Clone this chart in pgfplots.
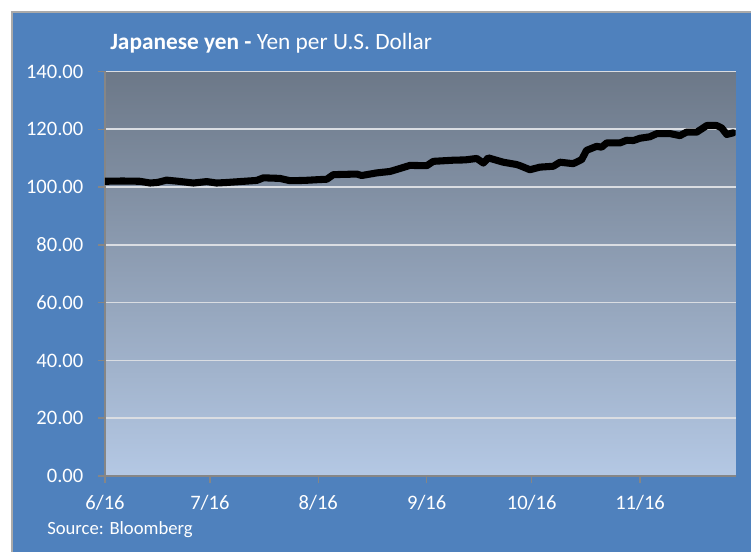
\documentclass[border=0pt]{standalone}
\usepackage{pgfplots}
\pgfplotsset{compat=1.18}
\usepackage{fontspec}
\setmainfont{Carlito}
\definecolor{bgblue}{RGB}{79,129,189}
\definecolor{plottop}{RGB}{108,120,136}
\definecolor{plotbot}{RGB}{180,200,228}
\definecolor{gridc}{RGB}{218,221,226}
\definecolor{axisgray}{RGB}{134,134,134}
\definecolor{framegray}{RGB}{170,170,170}
\begin{document}
\begin{tikzpicture}[x=0.75pt,y=0.75pt]
\fill[white] (0,0) rectangle (751,552);
\fill[bgblue] (12,0) rectangle (751,540);
\draw[framegray, line width=1.2pt] (12,0) -- (12,540) -- (751,540);
\begin{axis}[
  at={(78.75pt,57pt)}, anchor=south west,
  scale only axis, width=472.875pt, height=303.375pt,
  xmin=0, xmax=180.3, ymin=0, ymax=140,
  axis background/.style={top color=plottop, bottom color=plotbot},
  axis x line*=bottom, axis y line*=left,
  axis line style={axisgray, line width=1.1pt},
  tick align=outside, major tick length=5.25pt,
  tick style={axisgray, line width=1.1pt},
  ymajorgrids, major grid style={gridc, line width=1.2pt},
  ytick={0,20,...,140},
  xtick={0,30,61,92,122,153},
  xticklabels={6/16,7/16,8/16,9/16,10/16,11/16},
  ticklabel style={font=\fontsize{15.4}{18}\selectfont, text=white},
  /pgf/number format/assume math mode=true,
  yticklabel style={xshift=-7.5pt, /pgf/number format/.cd, fixed, fixed zerofill, precision=2},
  xticklabel style={yshift=-6pt},
]
\addplot[black, line width=5.3pt, line join=round, line cap=round] coordinates {
(0,102.0) (5,102.1) (10,102.0) (12.9,101.4) (15,101.6) (17.6,102.4) (21,102.0)
(25.3,101.4) (29.1,101.9) (31.9,101.4) (35,101.6) (38.6,101.9) (43.4,102.3)
(45.3,103.2) (50.0,103.0) (52.9,102.2) (57,102.3) (61.5,102.6) (63.4,102.7)
(65.3,104.3) (72.0,104.5) (73.4,104.0) (77.7,104.9) (81.5,105.4) (84,106.3)
(87.2,107.5) (92.0,107.4) (93.9,108.9) (99.6,109.3) (103,109.4) (106.3,109.9)
(108.2,108.3) (109.6,110.1) (113.9,108.6) (117.7,107.8) (118.7,107.4) (121.5,106.0)
(124.4,106.9) (128.2,107.2) (130.1,108.6) (133.9,108.1) (136.3,109.5) (137.7,112.7)
(140.6,114.1) (142.0,113.8) (143.5,115.3) (147.3,115.3) (149.2,116.2) (151.1,116.1)
(153.0,116.9) (155.8,117.4) (157.8,118.5) (161.6,118.5) (164.4,117.8) (166.3,119.0)
(169.2,119.0) (172.1,121.3) (174.9,121.3) (176.3,120.5) (177.8,118.2) (179.7,118.8)
};
\end{axis}
\node[anchor=base west, inner sep=0, text=white, font=\fontsize{17.5}{21}\selectfont] at (110,502) {\textbf{Japanese yen -} Yen per U.S. Dollar};
\node[anchor=base west, inner sep=0, text=white, font=\fontsize{14}{17}\selectfont] at (47,17) {Source: Bloomberg};
\pgfresetboundingbox
\useasboundingbox (0,0) rectangle (751,552);
\end{tikzpicture}
\end{document}
